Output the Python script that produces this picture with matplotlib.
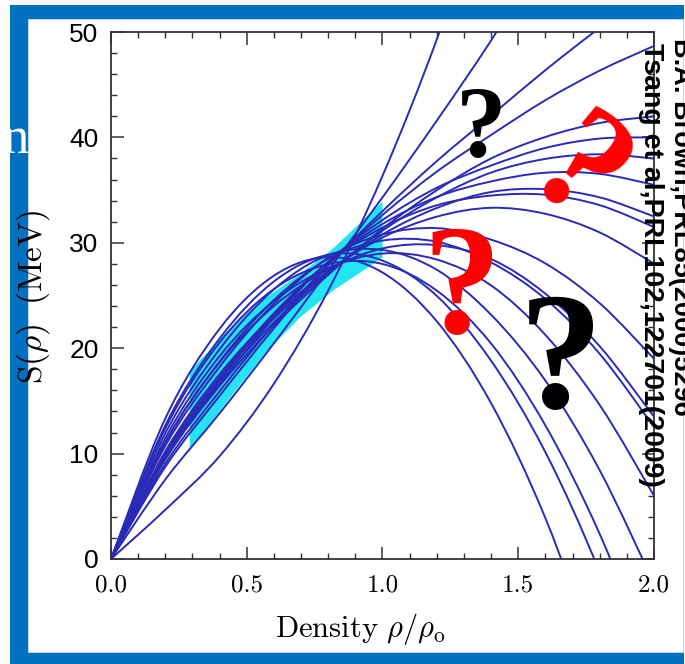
import numpy as np
import matplotlib
matplotlib.use("Agg")
import matplotlib.pyplot as plt
from matplotlib.path import Path
from matplotlib.patches import PathPatch, Rectangle, Polygon
from matplotlib.ticker import MultipleLocator

plt.rcParams['mathtext.fontset'] = 'cm'

W, H, DPI = 685, 664, 100

# density grid rho/rho0
density = [0.0, 0.2, 0.4, 0.6, 0.8, 1.0, 1.2, 1.4, 1.6, 1.8, 2.0]

# symmetry energy S(rho) in MeV for each Skyrme parametrisation
s_a = [0, 4.67, 9.76, 16.63, 25.47, 36.35, 49.30, 64.37]
s_b = [0, 7.54, 13.82, 20.46, 27.38, 34.31, 41.59, 49.20, 57.49]
s_c = [0, 8.74, 15.48, 21.89, 27.85, 33.00, 37.75, 42.07, 46.38, 50.40, 54.14]
s_d = [0, 9.05, 15.91, 22.25, 27.94, 32.64, 36.75, 40.23, 43.53, 46.34, 48.68]
s_e = [0, 9.43, 16.43, 22.14, 26.96, 31.33, 34.99, 38.00, 40.04, 41.37, 42.00]
s_f = [0, 9.54, 16.59, 22.87, 28.20, 32.16, 35.22, 37.33, 39.00, 39.89, 40.00]
s_g = [0, 9.65, 16.75, 22.45, 27.13, 31.15, 34.31, 36.66, 37.96, 38.40, 38.00]
s_h = [0, 9.79, 16.94, 23.11, 28.17, 31.78, 34.34, 35.82, 36.65, 36.54, 35.50]
s_i = [0, 9.96, 17.18, 22.81, 27.23, 30.79, 33.30, 34.82, 35.09, 34.31, 32.50]
s_j = [0, 10.02, 17.25, 23.32, 28.14, 31.44, 33.56, 34.48, 34.56, 33.57, 31.50]
s_k = [0, 10.22, 17.53, 23.10, 27.31, 30.50, 32.48, 33.32, 32.75, 30.98, 28.02]
s_l = [0, 10.73, 18.23, 24.24, 28.56, 30.79, 31.39, 30.30, 28.04, 24.27, 19.00]
s_m = [0, 11.04, 18.66, 24.00, 27.46, 29.47, 29.78, 28.46, 25.17, 20.18, 13.50]
s_n = [0, 11.09, 18.74, 24.56, 28.48, 30.21, 30.10, 28.14, 24.67, 19.46, 12.52]
s_o = [0, 11.46, 19.25, 24.48, 27.59, 28.98, 28.41, 25.95, 21.26, 14.61, 6.00]
s_p = [0, 11.93, 19.90, 25.58, 28.83, 29.32, 27.44, 23.17, 16.92, 8.42, -2.32]
s_q = [0, 12.39, 20.54, 25.61, 27.98, 27.99, 25.46, 20.44, 12.67, 2.37, -10.46]
s_r = [0, 12.67, 20.92, 26.33, 28.86, 28.31, 24.96, 18.81, 10.13, -1.26, -15.34]
s_s = [0, 13.33, 21.84, 26.88, 28.64, 27.18, 22.55, 14.78, 3.88, -10.15]

curves = [s_a, s_b, s_c, s_d, s_e, s_f, s_g, s_h, s_i, s_j, s_k,
          s_l, s_m, s_n, s_o, s_p, s_q, s_r, s_s]

# heavy-ion collision constraint band (Tsang et al.)
band_x = [0.29, 0.45, 0.57, 0.70, 0.82, 1.00]
band_lo = [10.3, 15.7, 19.6, 23.0, 25.5, 28.6]
band_hi = [17.8, 22.2, 24.8, 27.1, 29.5, 33.9]

x_ticks = [0.0, 0.5, 1.0, 1.5, 2.0]
x_ticklabels = ["0.0", "0.5", "1.0", "1.5", "2.0"]
y_ticks = [0, 10, 20, 30, 40, 50]
y_ticklabels = ["0", "10", "20", "30", "40", "50"]

FRAME_BLUE = "#0070c0"
LINE_BLUE = "#2a2ab8"
BAND_CYAN = "#22e4f2"


def smooth_path(xs, ys):
    """Catmull-Rom curve through the given points, as cubic Bezier segments."""
    pts = np.column_stack([xs, ys]).astype(float)
    n = len(pts)
    verts = [pts[0]]
    codes = [Path.MOVETO]
    for i in range(n - 1):
        p0 = pts[i - 1] if i > 0 else pts[i]
        p1, p2 = pts[i], pts[i + 1]
        p3 = pts[i + 2] if i + 2 < n else pts[i + 1]
        verts += [p1 + (p2 - p0) / 6.0, p2 - (p3 - p1) / 6.0, p2]
        codes += [Path.CURVE4] * 3
    return Path(verts, codes)


def fx(px):
    return px / W


def fy(py):
    return 1 - py / H


fig = plt.figure(figsize=(W / DPI, H / DPI), dpi=DPI, facecolor="white")

# slide frame and the pasted chart panel
fig.patches.append(Rectangle((fx(10), 0), fx(684) - fx(10), fy(5), transform=fig.transFigure,
                             facecolor=FRAME_BLUE, edgecolor="none", zorder=0))
fig.text(fx(29), fy(153), "n", color="white", fontsize=38, family="Liberation Serif",
         ha="right", va="baseline", zorder=0.5)
fig.patches.append(Rectangle((fx(28), fy(652)), fx(683) - fx(28), fy(19) - fy(652),
                             transform=fig.transFigure, facecolor="white",
                             edgecolor="#d8d8d8", linewidth=0.6, zorder=1))

ax = fig.add_axes([fx(111), fy(559), fx(654) - fx(111), fy(32) - fy(559)], zorder=2)
ax.set_facecolor("white")
ax.set_xlim(0, 2)
ax.set_ylim(0, 50)

band = Polygon(np.column_stack([band_x + band_x[::-1], band_lo + band_hi[::-1]]),
               closed=True, facecolor=BAND_CYAN, edgecolor="none", zorder=1)
ax.add_patch(band)

for vals in curves:
    xs = density[:len(vals)]
    ax.add_patch(PathPatch(smooth_path(xs, vals), fill=False, edgecolor=LINE_BLUE,
                           linewidth=1.4, zorder=2))

for side in ax.spines.values():
    side.set_linewidth(1.3)
    side.set_color("#333333")

ax.set_xticks(x_ticks)
ax.set_xticklabels(x_ticklabels, fontfamily="cmr10", fontsize=18)
ax.set_yticks(y_ticks)
ax.set_yticklabels(y_ticklabels, fontfamily="Liberation Sans", fontsize=19)
ax.xaxis.set_minor_locator(MultipleLocator(0.1))
ax.yaxis.set_minor_locator(MultipleLocator(2))
ax.tick_params(which="both", direction="in", top=True, right=True, color="#333333")
ax.tick_params(which="major", length=9, width=1.1)
ax.tick_params(which="minor", length=4.5, width=1.0)
ax.tick_params(axis="x", pad=11)
ax.tick_params(axis="y", pad=9)

ax.set_xlabel(r"$\mathrm{Density}\ \rho/\rho_{\mathrm{o}}$", fontsize=22)
ax.xaxis.set_label_coords(0.458, -0.098)
ax.set_ylabel(r"$\mathrm{S}(\rho)\ \;\mathrm{(MeV)}$", fontsize=24)
ax.yaxis.set_label_coords(-0.108, 0.497)

# question marks
qfont = "Liberation Serif"
fig.text(fx(481), fy(157), "?", color="black", fontsize=73, family=qfont,
         weight="bold", ha="center", va="baseline", zorder=5)
fig.text(fx(575), fy(178), "?", color="#ff0000", fontsize=112, family=qfont,
         weight="bold", ha="center", va="center", rotation=-40, zorder=5)
fig.text(fx(462), fy(333), "?", color="#ff0000", fontsize=113, family=qfont,
         weight="bold", ha="center", va="baseline", zorder=5)
fig.text(fx(561), fy(408), "?", color="black", fontsize=121, family=qfont,
         weight="bold", ha="center", va="baseline", zorder=5)

# references
fig.text(fx(651), fy(43), "Tsang et al,PRL102,122701(2009)", rotation=-90,
         fontsize=20.5, family="Liberation Sans", weight="bold", ha="center", va="top",
         zorder=6)
fig.text(fx(681), fy(38), "B.A. Brown,PRL85(2000)5296", rotation=-90,
         fontsize=19.5, family="Liberation Sans", weight="bold", ha="center", va="top",
         zorder=6)

fig.savefig("out.png", dpi=DPI, facecolor="white")
